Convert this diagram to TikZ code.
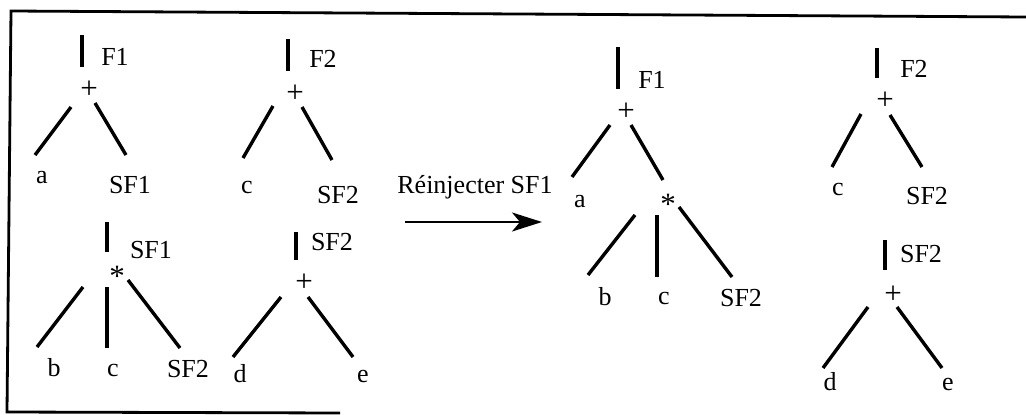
\documentclass[tikz,border=0pt]{standalone}
\usepackage{fontspec}
\setmainfont{Liberation Serif}
\usepackage{tikz}
\usetikzlibrary{arrows.meta, positioning}
\tikzset{
  ast/.style={line width=3.4pt, line cap=butt},
  lbl/.style={anchor=base, inner sep=0pt, font=\fontsize{26}{28}\selectfont},
  opz/.style={inner sep=0pt, font=\fontsize{31}{33}\selectfont},
}

\begin{document}
\begin{tikzpicture}[x=1pt, y=-1pt]
      \useasboundingbox (0,0) rectangle (1026,415);

      % Rahmen
      \coordinate (R1) at (1026,17);
      \coordinate (R2) at (11,11);
      \coordinate (R3) at (7,412);
      \coordinate (R4) at (340,413);
      \draw[line width=2.8pt] (R1) -- (R2) -- (R3) -- (R4);

      % Baum F1 (links oben)
      \node[lbl] (f1) at (115,65) {F1};
      \node[opz] (p1) at (89,90) {+};
      \node[lbl] (a1) at (42,183) {a};
      \node[lbl] (sf1) at (130,193) {SF1};

      % Baum F2 (links oben)
      \node[lbl] (f2) at (323,67) {F2};
      \node[opz] (p2) at (295,94) {+};
      \node[lbl] (c2) at (247,193) {c};
      \node[lbl] (sf2) at (338,203) {SF2};

      % Baum SF1 (links unten)
      \node[lbl] (sf1k) at (151,258) {SF1};
      \node[opz] (m3) at (117,276) {*};
      \node[lbl] (b3) at (54,376) {b};
      \node[lbl] (c3) at (113,376) {c};
      \node[lbl] (sf3) at (188,377) {SF2};

      % Baum SF2 (links unten)
      \node[lbl] (sf2k) at (332,250) {SF2};
      \node[opz] (p4) at (304,283) {+};
      \node[lbl] (d4) at (240,382) {d};
      \node[lbl] (e4) at (363,382) {e};

      % Pfeil
      \coordinate (pfA) at (405,222);
      \coordinate (pfB) at (542,222);
      \node[lbl] (rein) at (475,193) {Réinjecter SF1};
      \draw[line width=2.4pt, -{Stealth[length=30pt, width=19pt, inset=8pt]}] (pfA) -- (pfB);

      % Ergebnis: Baum F1
      \node[lbl] (f1r) at (652,88) {F1};
      \node[opz] (p5) at (626,112) {+};
      \node[lbl] (a5) at (580,207) {a};
      \node[opz] (m5) at (668,204) {*};
      \node[lbl] (b5) at (605,305) {b};
      \node[lbl] (c5) at (664,304) {c};
      \node[lbl] (sf5) at (741,306) {SF2};

      % Ergebnis: Baum F2
      \node[lbl] (f2r) at (914,77) {F2};
      \node[opz] (p6) at (885,101) {+};
      \node[lbl] (c6) at (838,195) {c};
      \node[lbl] (sf6) at (927,204) {SF2};

      % Ergebnis: Baum SF2
      \node[lbl] (sf7k) at (921,262) {SF2};
      \node[opz] (p7) at (893,295) {+};
      \node[lbl] (d7) at (830,390) {d};
      \node[lbl] (e7) at (948,390) {e};

      % Astenden
      \foreach \n/\x/\y in {
          k1o/82/35, k1u/82/67, k1l/71/107, k1la/35/155, k1r/95/103, k1ra/126/155,
          k2o/288/39, k2u/288/71, k2l/273/106, k2la/243/158, k2r/302/107, k2ra/332/160,
          k3o/107/222, k3u/107/252, k3l/83/287, k3la/37/347, k3m/107/287, k3ma/107/348,
            k3r/128/280, k3ra/180/348,
          k4o/296/232, k4u/296/260, k4l/281/297, k4la/233/357, k4r/308/297, k4ra/353/357,
          k5o/618/47, k5u/618/89, k5l/610/125, k5la/572/177, k5r/631/125, k5ra/663/180,
            k5sl/635/215, k5sla/588/275, k5sm/657/215, k5sma/657/277, k5sr/679/207, k5sra/732/277,
          k6o/877/48, k6u/877/78, k6l/861/114, k6la/832/167, k6r/890/115, k6ra/922/167,
          k7o/885/240, k7u/885/270, k7l/868/307, k7la/823/368, k7r/897/307, k7ra/942/368}
        \coordinate (\n) at (\x,\y);

      % Aeste
      \foreach \s/\e in {k1o/k1u, k1l/k1la, k1r/k1ra,
                         k2o/k2u, k2l/k2la, k2r/k2ra,
                         k3o/k3u, k3l/k3la, k3m/k3ma, k3r/k3ra,
                         k4o/k4u, k4l/k4la, k4r/k4ra,
                         k5o/k5u, k5l/k5la, k5r/k5ra, k5sl/k5sla, k5sm/k5sma, k5sr/k5sra,
                         k6o/k6u, k6l/k6la, k6r/k6ra,
                         k7o/k7u, k7l/k7la, k7r/k7ra}
        \draw[ast] (\s) -- (\e);
\end{tikzpicture}
\end{document}
